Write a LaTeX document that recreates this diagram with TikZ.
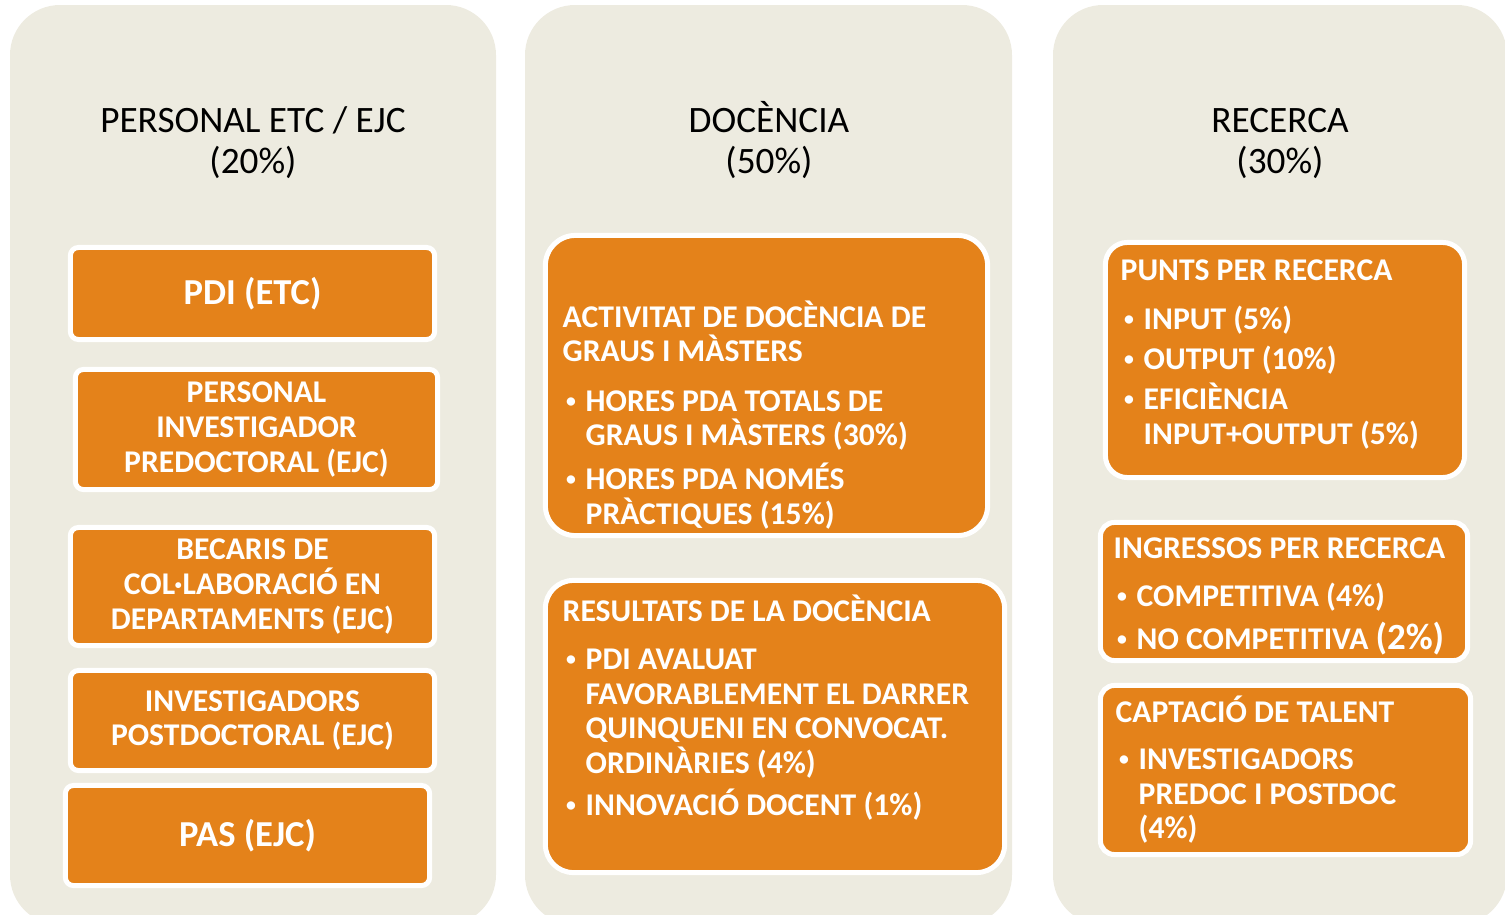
\documentclass[tikz,border=0pt]{standalone}
\usepackage{fontspec}
\setmainfont{Carlito}
\definecolor{PaneBeige}{HTML}{EDEBE0}
\definecolor{BoxOrange}{HTML}{E4821A}
\newlength{\bulwd}
\setlength{\bulwd}{0.23cm}
\newcommand{\tightlines}{\lineskiplimit=-10pt\relax}
\newcommand{\dotmark}{\raisebox{0.04cm}{\fontsize{5.6}{5.6}\selectfont\textbullet}}
\newcommand{\bul}[2][0.07cm]{\par\vspace{#1}\noindent\hangindent=\bulwd\hangafter=1\makebox[\bulwd][l]{\hspace{0.035cm}\dotmark}#2\par}

\begin{document}
\begin{tikzpicture}[
        x = 0.01cm,
        y = -0.01cm,
        pane/.style = {
            fill            = PaneBeige,
            rounded corners = 0.5cm,
        },
        head/.style = {
            anchor     = base,
            text width = 5cm,
            align      = flush center,
            inner sep  = 0pt,
            font       = \fontsize{10.6}{11.38}\selectfont,
        },
        tile/.style = {
            shape           = rectangle,
            fill            = BoxOrange,
            draw            = white,
            line width      = 0.05cm,
            rounded corners = 0.08cm,
            inner sep       = 0pt,
            text            = white,
            align           = center,
            font            = \bfseries\fontsize{9}{9.9}\selectfont\tightlines,
        },
        bigtile/.style = {
            tile,
            font = \bfseries\fontsize{10.4}{11}\selectfont,
        },
        list/.style = {
            anchor     = base west,
            inner sep  = 0pt,
            align      = flush left,
            text       = white,
            font       = \bfseries\fontsize{9}{9.8}\selectfont\tightlines,
        },
    ]
    \useasboundingbox (0,0) rectangle (1505,915);
    \clip (0,0) rectangle (1505,915);

    % three columns
    \fill[pane] (10,5)   rectangle (496,925);
    \fill[pane] (525,5)  rectangle (1012,925);
    \fill[pane] (1053,5) rectangle (1507,925);

    \node[head] (hpers) at (253,133)  {PERSONAL ETC / EJC\\(20\%)};
    \node[head] (hdoc)  at (769,133)  {DOCÈNCIA\\(50\%)};
    \node[head] (hrec)  at (1280,133) {RECERCA\\(30\%)};

    % personal
    \node[bigtile, minimum width = 3.64cm, minimum height = 0.92cm] (pdi)     at (252.5,293.5) {PDI (ETC)};
    \node[tile,    minimum width = 3.62cm, minimum height = 1.20cm] (predoc)  at (256.5,429.5) {PERSONAL\\INVESTIGADOR\\PREDOCTORAL (EJC)};
    \node[tile,    minimum width = 3.64cm, minimum height = 1.18cm] (becaris) at (252.5,586.5) {BECARIS DE\\COL·LABORACIÓ EN\\DEPARTAMENTS (EJC)};
    \node[tile,    minimum width = 3.64cm, minimum height = 1.00cm] (postdoc) at (252.5,720.5) {INVESTIGADORS\\POSTDOCTORAL (EJC)};
    \node[bigtile, minimum width = 3.64cm, minimum height = 1.00cm] (pas)     at (247.5,835.5) {PAS (EJC)};

    % docencia
    \node[tile, rounded corners = 0.3cm,  minimum width = 4.42cm, minimum height = 3.00cm] (activ) at (766.5,385.5) {};
    \node[list, text width = 4.2cm] (activT) at (562,327) {ACTIVITAT DE DOCÈNCIA DE\newline GRAUS I MÀSTERS
        \bul[0.155cm]{HORES PDA TOTALS DE\newline GRAUS I MÀSTERS (30\%)}
        \bul[0.095cm]{HORES PDA NOMÉS\newline PRÀCTIQUES (15\%)}};

    \node[tile, rounded corners = 0.28cm, minimum width = 4.59cm, minimum height = 2.92cm] (resul) at (775,726.5) {};
    \node[list, text width = 4.3cm] (resulT) at (562,621) {RESULTATS DE LA DOCÈNCIA
        \bul[0.145cm]{PDI AVALUAT\newline FAVORABLEMENT EL DARRER\newline QUINQUENI EN CONVOCAT.\newline ORDINÀRIES (4\%)}
        \bul[0.075cm]{INNOVACIÓ DOCENT (1\%)}};

    % recerca
    \node[tile, rounded corners = 0.22cm, minimum width = 3.59cm, minimum height = 2.35cm] (punts) at (1285,360) {};
    \node[list, text width = 3.4cm] (puntsT) at (1120,280) {PUNTS PER RECERCA
        \bul[0.155cm]{INPUT (5\%)}
        \bul[0.055cm]{OUTPUT (10\%)}
        \bul[0.055cm]{EFICIÈNCIA\newline INPUT+OUTPUT (5\%)}};

    \node[tile, rounded corners = 0.14cm, minimum width = 3.67cm, minimum height = 1.38cm] (ingr) at (1284,591.5) {};
    \node[list, text width = 3.5cm] (ingrT) at (1113,558) {INGRESSOS PER RECERCA
        \bul[0.145cm]{COMPETITIVA (4\%)}
        \bul[0.085cm]{NO COMPETITIVA {\fontsize{10.5}{9.8}\selectfont(2\%)}}};

    \node[tile, rounded corners = 0.14cm, minimum width = 3.70cm, minimum height = 1.69cm] (capt) at (1285.5,770) {};
    \node[list, text width = 3.5cm] (captT) at (1115,722) {CAPTACIÓ DE TALENT
        \bul[0.135cm]{INVESTIGADORS\newline PREDOC I POSTDOC\newline (4\%)}};
\end{tikzpicture}
\end{document}
